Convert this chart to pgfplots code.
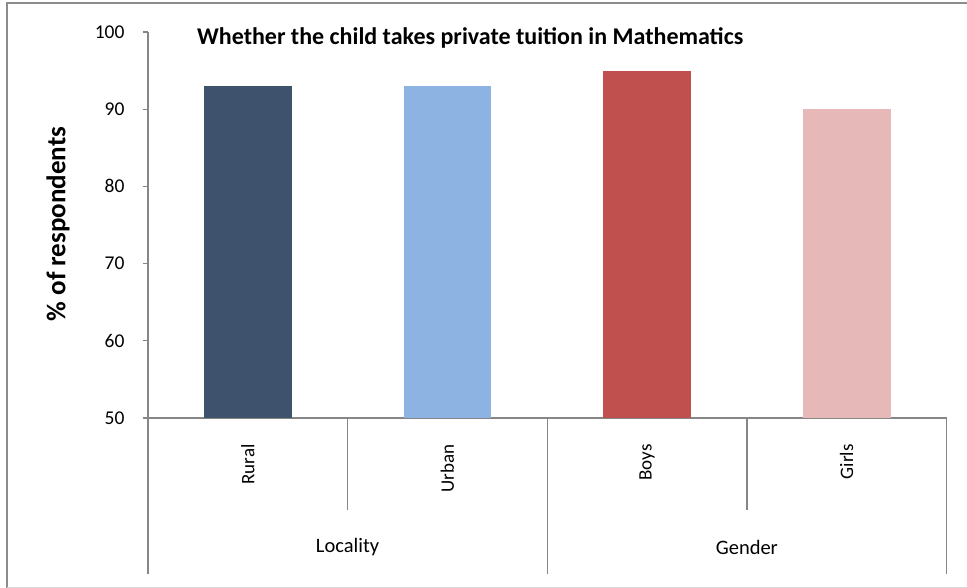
\documentclass[border=0pt]{standalone}
\usepackage{pgfplots}
\pgfplotsset{compat=1.18}
\usepackage{fontspec}
\setmainfont{Carlito}
\definecolor{rural}{HTML}{3E526D}
\definecolor{urban}{HTML}{8DB3E2}
\definecolor{boys}{HTML}{C0504D}
\definecolor{girls}{HTML}{E6B9B8}
\definecolor{axgray}{HTML}{868686}
\definecolor{framegray}{HTML}{8C8C8C}
\begin{document}
\begin{tikzpicture}
\path[use as bounding box] (0,0) rectangle (967pt,-588pt);
\draw[framegray, line width=1.6pt] (7pt,-588pt) -- (7pt,-3pt) -- (967pt,-3pt);
\draw[black!15, line width=1pt] (7pt,-587pt) -- (967pt,-587pt);
\begin{axis}[
  at={(148pt,-418pt)}, anchor=south west,
  scale only axis, width=798.5pt, height=386pt,
  xmin=-0.5, xmax=3.5, ymin=50, ymax=100,
  ytick={50,60,70,80,90,100},
  xtick={0,1,2,3},
  xticklabels={Rural,Urban,Boys,Girls},
  axis x line*=bottom, axis y line*=left,
  axis line style={-, draw=axgray, line width=1.3pt},
  tick align=outside,
  ytick style={draw=axgray, line width=1.3pt},
  major tick length=5pt,
  xtick style={draw=none},
  /pgf/number format/assume math mode=true,
  yticklabel style={font=\fontsize{19.5}{22}\selectfont, text=black},
  yticklabel shift=15pt,
  xticklabel style={font=\fontsize{19}{22}\selectfont, rotate=90, anchor=east, text=black},
  xticklabel shift=18pt,
  clip=false,
  ybar, bar width=0.44, bar shift=0pt,
]
\addplot[draw=none, fill=rural, bar shift=0pt] coordinates {(0,93)};
\addplot[draw=none, fill=urban, bar shift=0pt] coordinates {(1,93)};
\addplot[draw=none, fill=boys, bar shift=0pt] coordinates {(2,95)};
\addplot[draw=none, fill=girls, bar shift=0pt] coordinates {(3,90)};
\draw[axgray, line width=1.3pt] (axis cs:-0.5,50) -- ++(0pt,-156pt);
\draw[axgray, line width=1.3pt] (axis cs:0.5,50) -- ++(0pt,-92pt);
\draw[axgray, line width=1.3pt] (axis cs:1.5,50) -- ++(0pt,-156pt);
\draw[axgray, line width=1.3pt] (axis cs:2.5,50) -- ++(0pt,-92pt);
\draw[axgray, line width=1.3pt] (axis cs:3.5,50) -- ++(0pt,-156pt);
\node[font=\fontsize{20.5}{24}\selectfont, anchor=center] at (axis cs:0.5,50) [yshift=-129pt] {Locality};
\node[font=\fontsize{20.5}{24}\selectfont, anchor=center] at (axis cs:2.5,50) [yshift=-129pt] {Gender};
\end{axis}
\node[font=\bfseries\fontsize{24}{28}\selectfont, anchor=base west, inner sep=0pt] at (197pt,-45pt) {Whether the child takes private tuition in Mathematics};
\node[font=\bfseries\fontsize{27}{31}\selectfont, rotate=90, anchor=center, inner sep=0pt] at (58pt,-224pt) {\% of respondents};
\end{tikzpicture}
\end{document}
